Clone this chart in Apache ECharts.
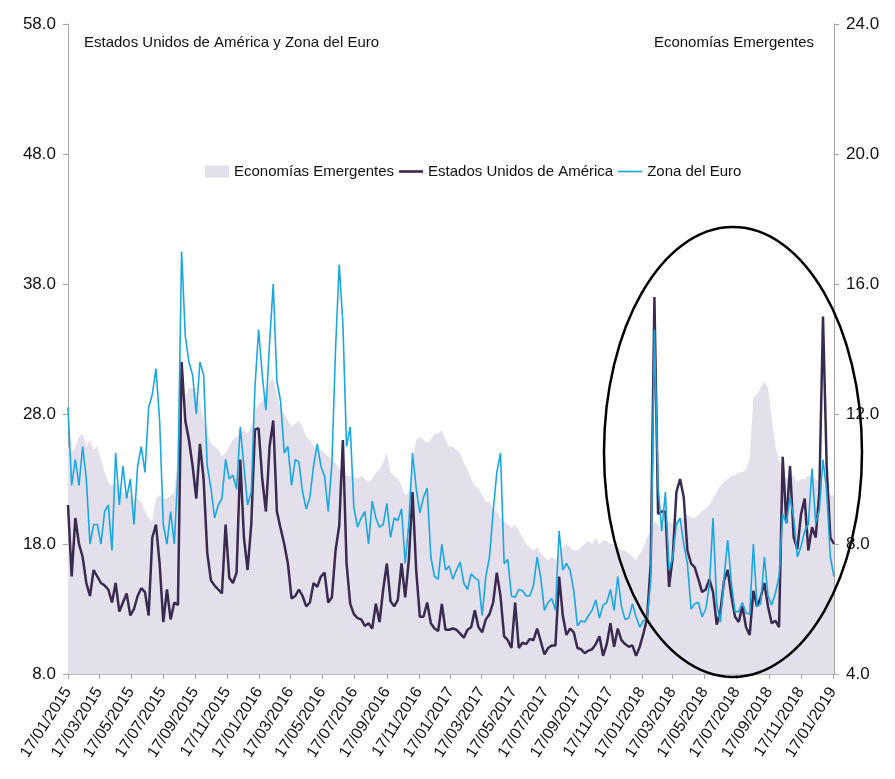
<!DOCTYPE html>
<html>
<head>
<meta charset="utf-8">
<script src="https://cdn.jsdelivr.net/npm/echarts@6/dist/echarts.min.js"></script>
<style>
  html, body { margin: 0; padding: 0; background: #fff; }
  #chart { width: 895px; height: 779px; }
</style>
</head>
<body>
<div id="chart"></div>
<script>
// datos semanales, desde el 17/01/2015 (un punto cada 7 dias)
const startDate = new Date(2015, 0, 17);
const stepDays = 7;

// Zona del Euro (eje izquierdo)
const zonaEuro = [
  28.5, 22.5, 24.5, 22.5, 25.5, 23, 18, 19.5, 19.5, 18,
  20.5, 21, 17.5, 25, 21, 24, 21.5, 23, 19.5, 24,
  25.5, 23.5, 28.5, 29.5, 31.5, 27.5, 19.5, 18, 20.5, 18,
  23.5, 40.5, 34, 32, 31, 28, 32, 31, 24, 22.3,
  20, 21, 21.5, 24.5, 23, 23.3, 22.2, 27, 24, 21,
  22, 30, 34.5, 31, 28.3, 33.5, 38, 30.5, 29, 25,
  25.5, 22.5, 24.5, 24.3, 22, 20.7, 21.6, 24, 25.7, 24,
  23.2, 20.5, 24.2, 33, 39.5, 35, 25.5, 27, 20.8, 19.3,
  20, 20.5, 18, 21.3, 20, 19.3, 19.5, 21.1, 18.5, 20,
  19.8, 20.7, 16.5, 19.6, 25, 22.3, 20.4, 21.6, 22.3, 17,
  15.5, 15.3, 18, 16, 16.3, 15.3, 16, 16.6, 15, 14.5,
  15.7, 15.4, 15.2, 12.5, 15.5, 17, 20.5, 23.5, 25, 16.5,
  16.8, 14, 13.9, 14.5, 14.4, 14, 14, 14.8, 17, 15.4,
  12.9, 13.5, 13.8, 12.9, 19, 16, 16.5, 16, 14.4, 11.7,
  12.1, 12, 12.5, 12.9, 13.7, 12.3, 13.3, 13.5, 14.5, 12.9,
  15.5, 13.2, 12.2, 12.3, 13.4, 12.4, 11.6, 12.1, 12.2, 15.2,
  34.5, 22.5, 19, 22, 16, 17, 19.5, 20, 18, 16.5,
  13, 13.4, 13.5, 12.4, 13, 14.8, 20, 13.4, 12, 15.4,
  18.3, 15, 12.8, 12.8, 13.5, 12.7, 12.6, 18, 13.2, 13.4,
  17, 14, 13.3, 14.2, 15.5, 20.3, 19.6, 21.6, 20, 17,
  17.8, 19, 19.5, 23.8, 19.6, 20.6, 24.5, 22, 17, 15.5
];

// Estados Unidos de América (eje izquierdo)
const eeuu = [
  21, 15.5, 20, 18, 17, 15, 14, 16, 15.5, 15,
  14.8, 14.5, 13.5, 15, 12.8, 13.5, 14.2, 12.5, 13, 14,
  14.6, 14.3, 12.5, 18.5, 19.5, 16.5, 12, 14.5, 12.2, 13.5,
  13.3, 32, 27.5, 26, 24, 21.5, 25.7, 23, 17.3, 15.2,
  14.8, 14.5, 14.2, 19.5, 15.4, 15, 15.8, 24.5, 18.5, 16,
  19.5, 26.8, 26.9, 23, 20.5, 25.5, 27.5, 20.5, 19.2, 18,
  16.5, 13.8, 14, 14.5, 14, 13.2, 13.5, 15, 14.7, 15.5,
  15.8, 13.5, 13.9, 17.5, 19.4, 26, 16.5, 13.4, 12.6, 12.3,
  12.2, 11.7, 11.9, 11.5, 13.4, 12, 14.5, 16.5, 13.6, 13.2,
  13.7, 16.5, 13.9, 16.8, 22, 16, 12.4, 12.4, 13.5, 11.9,
  11.5, 11.3, 13.4, 11.4, 11.4, 11.5, 11.4, 11.1, 10.8, 11.4,
  11.6, 12.9, 11.6, 11.2, 12.2, 12.6, 13.5, 15.8, 14, 10.9,
  10.6, 10, 13.5, 10, 10.4, 10.3, 10.7, 10.6, 11.5, 10.5,
  9.5, 10, 10.2, 10.2, 15.5, 12.5, 11, 11.5, 11.2, 10,
  9.9, 9.6, 9.8, 9.9, 10.3, 10.9, 9.4, 10.3, 11.9, 10.1,
  11.5, 10.6, 10.3, 10.1, 10.2, 9.4, 10.1, 11.1, 12.3, 16.5,
  37, 20.3, 20.5, 20.5, 14.7, 17, 22, 23, 21.6, 17.5,
  16.5, 16.2, 15.3, 14.3, 14.5, 15.3, 14.3, 11.8, 12.8, 15.2,
  16, 14, 12.4, 12, 13.2, 11.6, 11, 14.4, 13.2, 13.9,
  15, 13.2, 11.9, 12.1, 11.6, 24.7, 19.6, 24, 18.5, 17.6,
  20.3, 21.5, 17.5, 19.3, 18.5, 22, 35.5, 24, 18.5, 18
];

// Economías Emergentes (eje derecho)
const emergentes = [
  11.0, 10.8, 11.0, 11.3, 11.4, 11.0, 11.2, 10.9, 11.0, 10.6,
  10.2, 9.9, 9.8, 9.9, 9.7, 9.6, 9.5, 9.5, 9.4, 9.4,
  9.3, 9.0, 8.8, 8.7, 9.4, 9.5, 9.4, 9.4, 9.5, 9.6,
  10.7, 11.5, 12.5, 12.8, 12.8, 12.7, 12.3, 11.8, 11.4, 11.1,
  11.0, 10.9, 10.7, 10.8, 11.0, 11.2, 11.3, 11.4, 11.5, 11.4,
  11.6, 12.0, 12.3, 12.4, 12.6, 13.0, 13.1, 12.6, 12.2, 12.0,
  11.8, 11.6, 11.7, 11.8, 11.6, 11.3, 11.2, 11.0, 10.9, 10.9,
  10.8, 10.7, 10.6, 10.5, 10.3, 10.2, 10.1, 10.1, 10.1, 10.0,
  10.1, 10.0, 9.9, 10.0, 10.2, 10.3, 10.5, 10.8, 10.2, 10.1,
  10.0, 9.8, 9.5, 9.6, 10.4, 11.2, 11.3, 11.2, 11.1, 11.2,
  11.4, 11.4, 11.5, 11.2, 11.0, 11.0, 10.9, 10.8, 10.5, 10.3,
  10.0, 9.8, 9.7, 9.5, 9.3, 9.3, 9.1, 9.0, 8.8, 8.7,
  8.6, 8.5, 8.6, 8.4, 8.2, 8.0, 7.9, 7.8, 7.9, 7.7,
  7.6, 7.5, 7.6, 7.5, 7.7, 7.9, 8.0, 7.9, 7.8, 7.8,
  7.9, 8.0, 8.1, 8.0, 8.2, 8.0, 8.1, 8.1, 8.0, 8.0,
  7.9, 7.8, 7.8, 7.7, 7.6, 7.5, 7.7, 7.9, 8.2, 8.4,
  8.7, 8.6, 8.5, 8.6, 8.7, 8.6, 8.7, 8.8, 8.8, 8.9,
  8.8, 8.8, 8.9, 9.0, 9.1, 9.2, 9.4, 9.6, 9.8, 9.9,
  10.0, 10.1, 10.1, 10.2, 10.2, 10.3, 10.6, 12.5, 12.6, 12.8,
  13.0, 12.8, 11.9, 11.0, 10.6, 10.3, 10.0, 10.1, 10.1, 9.9,
  10.0, 10.0, 10.1, 10.1, 10.0, 9.9, 9.9, 9.6, 9.5, 9.5
];

// ticks de los ejes
const leftTicks = { min: 8, max: 58, interval: 10 };
const rightTicks = { min: 4, max: 24, interval: 4 };

const font = "'Liberation Sans Narrow', 'Arial Narrow', 'Liberation Sans', sans-serif";
const colEm = '#e3dfeb';
const colUsa = '#3b2a4f';
const colEuro = '#1aa7e0';

// eje x: un dia por categoria
function pad(n) { return n < 10 ? '0' + n : '' + n; }
const totalDays = (zonaEuro.length - 1) * stepDays + 1;
const days = [];
for (let i = 0; i < totalDays; i++) {
  const d = new Date(startDate.getFullYear(), startDate.getMonth(), startDate.getDate() + i);
  days.push(pad(d.getDate()) + '/' + pad(d.getMonth() + 1) + '/' + d.getFullYear());
}
// etiqueta el 17 de los meses impares
function isLabelDay(index, value) {
  const p = days[index].split('/');
  return p[0] === '17' && (+p[1]) % 2 === 1;
}
function toPoints(values) {
  return values.map((v, k) => [k * stepDays, v]);
}

const chart = echarts.init(document.getElementById('chart'));

const option = {
  backgroundColor: '#fff',
  animation: false,
  textStyle: { fontFamily: font },
  title: [
    {
      text: 'Estados Unidos de América y Zona del Euro',
      left: 79, top: 30,
      textStyle: { fontSize: 15, fontWeight: 'normal', color: '#111', fontFamily: font }
    },
    {
      text: 'Economías Emergentes',
      right: 76, top: 30,
      textStyle: { fontSize: 15, fontWeight: 'normal', color: '#111', fontFamily: font }
    }
  ],
  legend: {
    left: 200, top: 159,
    itemWidth: 24, itemHeight: 12, itemGap: 5,
    symbolKeepAspect: true,
    textStyle: { fontSize: 15, color: '#111', fontFamily: font },
    data: [
      { name: 'Economías Emergentes', icon: 'rect', itemStyle: { color: colEm } },
      { name: 'Estados Unidos de América', icon: 'path://M0,0H24V2.6H0Z', itemStyle: { color: colUsa } },
      { name: 'Zona del Euro', icon: 'path://M0,0H24V1.7H0Z', itemStyle: { color: colEuro } }
    ]
  },
  grid: { left: 68, right: 61, top: 24, bottom: 105 },
  xAxis: {
    type: 'category',
    data: days,
    boundaryGap: false,
    axisLine: { lineStyle: { color: '#a6a6a6', width: 1.5 } },
    axisTick: { interval: isLabelDay, length: 5, lineStyle: { color: '#a6a6a6' } },
    axisLabel: {
      interval: isLabelDay,
      rotate: 57,
      margin: 15,
      fontSize: 16,
      color: '#111',
      fontFamily: font
    },
    splitLine: { show: false }
  },
  yAxis: [
    {
      type: 'value',
      min: leftTicks.min, max: leftTicks.max, interval: leftTicks.interval,
      axisLine: { show: true, lineStyle: { color: '#a6a6a6' } },
      axisTick: { show: true, length: 5, lineStyle: { color: '#a6a6a6' } },
      axisLabel: { formatter: v => v.toFixed(1), fontSize: 17, color: '#111', margin: 12, fontFamily: font },
      splitLine: { show: false }
    },
    {
      type: 'value',
      position: 'right',
      min: rightTicks.min, max: rightTicks.max, interval: rightTicks.interval,
      axisLine: { show: true, lineStyle: { color: '#a6a6a6' } },
      axisTick: { show: true, length: 5, lineStyle: { color: '#a6a6a6' } },
      axisLabel: { formatter: v => v.toFixed(1), fontSize: 17, color: '#111', margin: 12, fontFamily: font },
      splitLine: { show: false }
    }
  ],
  series: [
    {
      name: 'Economías Emergentes',
      type: 'line',
      yAxisIndex: 1,
      data: toPoints(emergentes),
      symbol: 'none',
      lineStyle: { width: 0, color: colEm },
      itemStyle: { color: colEm },
      areaStyle: { color: colEm, opacity: 1, origin: 'start' },
      z: 1
    },
    {
      name: 'Estados Unidos de América',
      type: 'line',
      yAxisIndex: 0,
      data: toPoints(eeuu),
      symbol: 'none',
      lineStyle: { width: 2.5, color: colUsa },
      itemStyle: { color: colUsa },
      z: 2
    },
    {
      name: 'Zona del Euro',
      type: 'line',
      yAxisIndex: 0,
      data: toPoints(zonaEuro),
      symbol: 'none',
      lineStyle: { width: 1.6, color: colEuro },
      itemStyle: { color: colEuro },
      z: 3
    }
  ],
  // elipse que marca el ultimo año
  graphic: [
    {
      type: 'ellipse',
      shape: { cx: 733, cy: 452, rx: 129, ry: 225 },
      style: { fill: 'none', stroke: '#000', lineWidth: 2.5 },
      z: 100
    }
  ]
};

chart.setOption(option);
</script>
</body>
</html>
